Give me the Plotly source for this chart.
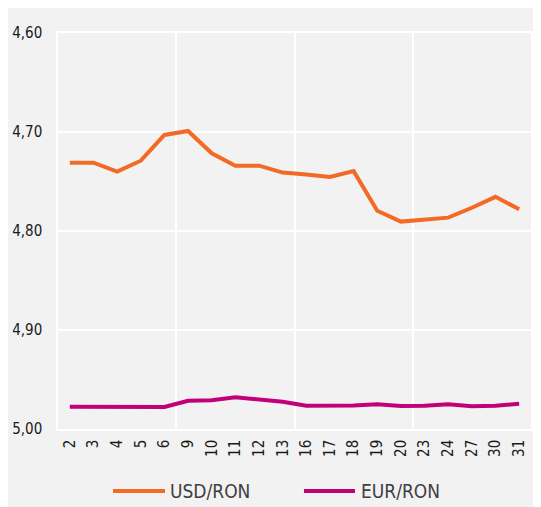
import plotly.graph_objects as go

days = ["2", "3", "4", "5", "6", "9", "10", "11", "12", "13",
        "16", "17", "18", "19", "20", "23", "24", "27", "30", "31"]
usd_ron = [4.731, 4.731, 4.740, 4.729, 4.703, 4.699, 4.7215, 4.734, 4.734, 4.741,
           4.743, 4.7455, 4.7395, 4.7795, 4.7905, 4.788, 4.7865, 4.7765, 4.7655, 4.778]
eur_ron = [4.9775, 4.9775, 4.9775, 4.9775, 4.9778, 4.9715, 4.971, 4.968, 4.970, 4.9725,
           4.9765, 4.9763, 4.9763, 4.975, 4.9768, 4.9765, 4.975, 4.977, 4.9765, 4.9745]
y_ticks = [4.60, 4.70, 4.80, 4.90, 5.00]
y_labels = ["4,60", "4,70", "4,80", "4,90", "5,00"]
series_names = ["USD/RON", "EUR/RON"]
colors = ["#F26A25", "#C2007A"]

FONT = "DejaVu Sans Condensed, Liberation Sans Narrow, sans-serif"

x = list(range(len(days)))
fig = go.Figure()
for name, vals, col in zip(series_names, [usd_ron, eur_ron], colors):
    fig.add_trace(go.Scatter(x=x, y=vals, mode="lines", name=name,
                             line=dict(color=col, width=4), showlegend=False))

fig.update_layout(
    width=556, height=516,
    margin=dict(l=50, r=33, t=25, b=95, autoexpand=False),
    paper_bgcolor="#F2F2F2", plot_bgcolor="#F2F2F2",
    font=dict(family=FONT, size=15, color="#1a1a1a"),
)
fig.update_xaxes(
    automargin=False,
    range=[-0.5, len(days) - 0.5], tickmode="array", tickvals=x, ticktext=days,
    tickangle=-90, showgrid=False, zeroline=False,
    showline=True, mirror=True, linecolor="white", linewidth=1.5,
    ticks="outside", ticklen=3, tickcolor="rgba(0,0,0,0)",
    minor=dict(tickmode="array", tickvals=[4.5, 9.5, 14.5], showgrid=True,
               gridcolor="white", gridwidth=1.5, ticks=""),
    tickfont=dict(family=FONT, size=15, color="#1a1a1a"),
)
fig.update_yaxes(
    automargin=False,
    range=[5.0, 4.6], tickmode="array", tickvals=y_ticks, ticktext=y_labels,
    showgrid=True, gridcolor="white", gridwidth=1.5, zeroline=False,
    showline=True, mirror=True, linecolor="white", linewidth=1.5,
    ticks="outside", ticklen=11, tickcolor="rgba(0,0,0,0)",
    tickfont=dict(family=FONT, size=15, color="#1a1a1a"),
)

# custom legend (long line symbols)
leg_y = -0.1566
leg = [(0.1163, 0.2262, 0.2326), (0.520, 0.6279, 0.6364)]
for (x0, x1, tx), name, col in zip(leg, series_names, colors):
    fig.add_shape(type="line", xref="paper", yref="paper", x0=x0, x1=x1,
                  y0=leg_y, y1=leg_y, line=dict(color=col, width=4))
    fig.add_annotation(xref="paper", yref="paper", x=tx, y=leg_y, text=name,
                       showarrow=False, xanchor="left", yanchor="middle",
                       font=dict(family=FONT, size=19, color="#404040"))

fig.write_html("out.html")
